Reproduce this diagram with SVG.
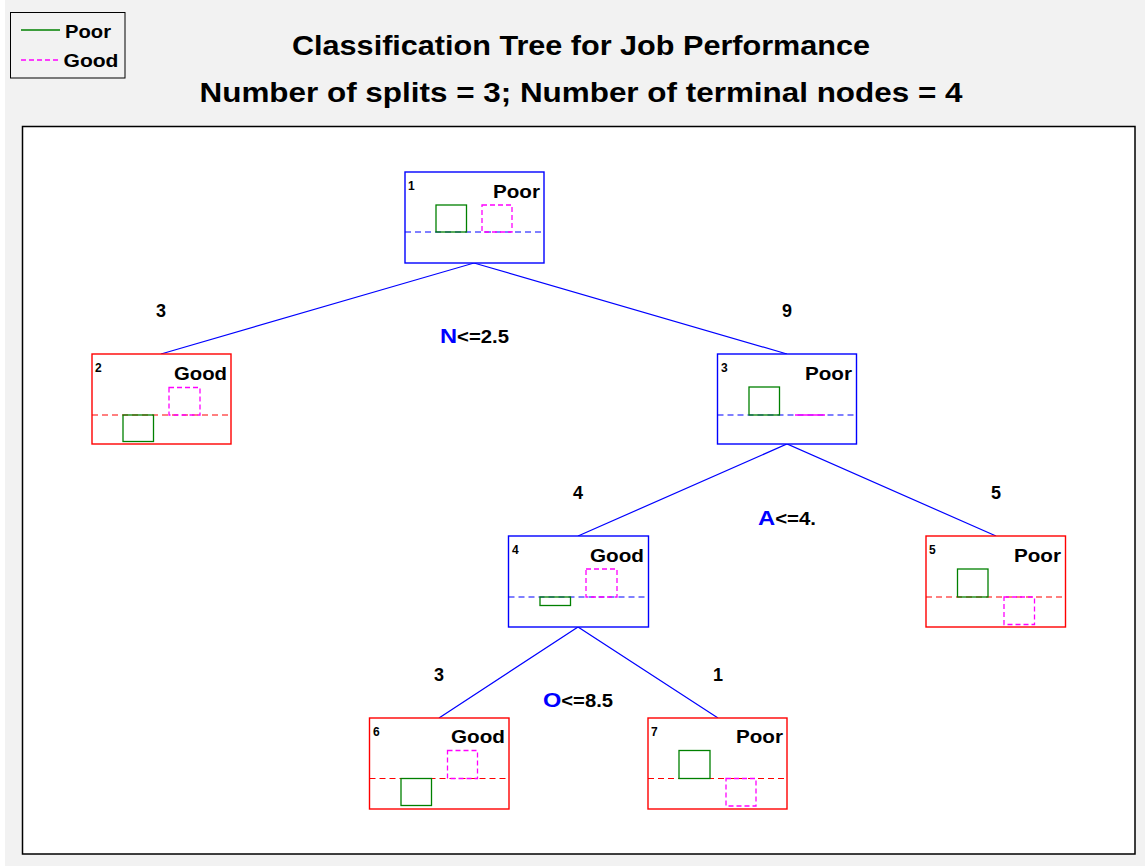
<svg xmlns="http://www.w3.org/2000/svg" width="1145" height="866" viewBox="0 0 1145 866">
  <style>
    text { font-family: "Liberation Sans", Arial, sans-serif; font-weight: bold; fill: #000; }
    .title { font-size: 28px; }
    .num { font-size: 12px; }
    .cls { font-size: 19px; text-anchor: end; }
    .cnt { font-size: 18px; text-anchor: middle; }
    .split { font-size: 18px; }
    .var { font-size: 21px; fill: #0000ff; }
    .leg { font-size: 18px; }
    .inner { fill: #fff; stroke-width: 1.4; }
    .inner.blue { stroke: #0000ff; }
    .inner.red { stroke: #ff0000; }
    .base { stroke-width: 1.2; stroke-dasharray: 6 4; fill: none; }
    .base.blue { stroke: #0000ff; }
    .base.red { stroke: #ff0000; }
    .poor { fill: none; stroke: #008000; stroke-width: 1.3; }
    .good { fill: none; stroke: #ff00ff; stroke-width: 1.3; stroke-dasharray: 5 3; }
    .edge { stroke: #0000ff; stroke-width: 1.2; fill: none; }
  </style>

  <!-- page background -->
  <rect x="0" y="0" width="1145" height="866" fill="#ffffff"/>
  <rect x="5" y="0" width="1140" height="866" fill="#f2f2f2"/>

  <!-- plot area -->
  <rect x="22.5" y="126.5" width="1112.5" height="727.5" fill="#ffffff" stroke="#000" stroke-width="1.5"/>

  <!-- legend -->
  <g id="legend">
    <rect x="10.5" y="12.5" width="114.5" height="65.5" fill="#f2f2f2" stroke="#000" stroke-width="1"/>
    <line x1="21" y1="30" x2="60" y2="30" stroke="#008000" stroke-width="1.3"/>
    <line x1="21" y1="60" x2="60" y2="60" stroke="#ff00ff" stroke-width="1.3" stroke-dasharray="5 3"/>
    <text class="leg" x="65" y="38" textLength="46" lengthAdjust="spacingAndGlyphs">Poor</text>
    <text class="leg" x="63.5" y="67" textLength="55" lengthAdjust="spacingAndGlyphs">Good</text>
  </g>

  <!-- titles -->
  <text class="title" x="581" y="55" text-anchor="middle" textLength="578" lengthAdjust="spacingAndGlyphs">Classification Tree for Job Performance</text>
  <text class="title" x="581" y="102" text-anchor="middle" textLength="763" lengthAdjust="spacingAndGlyphs">Number of splits = 3; Number of terminal nodes = 4</text>

  <!-- connectors -->
  <g id="connectors">
    <polyline class="edge" points="161,354 474,263 787,354"/>
    <polyline class="edge" points="578,536 787,444 996,536"/>
    <polyline class="edge" points="439,718 578,627 718,718"/>
    <text class="cnt" x="161" y="317">3</text>
    <text class="cnt" x="787" y="317">9</text>
    <text x="440" y="343" textLength="69" lengthAdjust="spacingAndGlyphs"><tspan class="var">N</tspan><tspan class="split">&lt;=2.5</tspan></text>
    <text class="cnt" x="578" y="499">4</text>
    <text class="cnt" x="996" y="499">5</text>
    <text x="758" y="525" textLength="58" lengthAdjust="spacingAndGlyphs"><tspan class="var">A</tspan><tspan class="split">&lt;=4.</tspan></text>
    <text class="cnt" x="439" y="681">3</text>
    <text class="cnt" x="718" y="681">1</text>
    <text x="543" y="707" textLength="70" lengthAdjust="spacingAndGlyphs"><tspan class="var">O</tspan><tspan class="split">&lt;=8.5</tspan></text>
  </g>

  <!-- node 1 -->
  <g id="node1">
    <rect class="inner blue" x="405" y="172" width="139" height="91"/>
    <line class="base blue" x1="405" y1="232" x2="544" y2="232"/>
    <rect class="poor" x="436" y="205" width="30.5" height="27"/>
    <rect class="good" x="482" y="205" width="30" height="27"/>
    <text class="num" x="408" y="190">1</text>
    <text class="cls" x="540" y="198" textLength="47" lengthAdjust="spacingAndGlyphs">Poor</text>
  </g>

  <!-- node 2 -->
  <g id="node2">
    <rect class="inner red" x="92" y="354" width="139" height="90"/>
    <line class="base red" x1="92" y1="415" x2="231" y2="415"/>
    <rect class="poor" x="123" y="415" width="30.5" height="26.5"/>
    <rect class="good" x="169" y="387.5" width="31" height="27.5"/>
    <text class="num" x="95" y="372">2</text>
    <text class="cls" x="227" y="380" textLength="53" lengthAdjust="spacingAndGlyphs">Good</text>
  </g>

  <!-- node 3 -->
  <g id="node3">
    <rect class="inner blue" x="717.5" y="354" width="139" height="90"/>
    <line class="base blue" x1="717.5" y1="415" x2="856.5" y2="415"/>
    <rect class="poor" x="749" y="387" width="30.5" height="28"/>
    <line x1="795" y1="415" x2="825" y2="415" stroke="#ff00ff" stroke-width="1.5"/>
    <text class="num" x="721" y="372">3</text>
    <text class="cls" x="852" y="380" textLength="47" lengthAdjust="spacingAndGlyphs">Poor</text>
  </g>

  <!-- node 4 -->
  <g id="node4">
    <rect class="inner blue" x="508.5" y="536" width="140" height="91"/>
    <line class="base blue" x1="508.5" y1="597" x2="648.5" y2="597"/>
    <rect class="poor" x="540" y="597" width="30.5" height="8.5"/>
    <rect class="good" x="586" y="569" width="31" height="28"/>
    <text class="num" x="512" y="554">4</text>
    <text class="cls" x="644" y="562" textLength="54" lengthAdjust="spacingAndGlyphs">Good</text>
  </g>

  <!-- node 5 -->
  <g id="node5">
    <rect class="inner red" x="926" y="536" width="139.5" height="91"/>
    <line class="base red" x1="926" y1="597" x2="1065.5" y2="597"/>
    <rect class="poor" x="957.5" y="569" width="30.5" height="28"/>
    <rect class="good" x="1004" y="597" width="30.5" height="27.5"/>
    <text class="num" x="929" y="554">5</text>
    <text class="cls" x="1061" y="562" textLength="47" lengthAdjust="spacingAndGlyphs">Poor</text>
  </g>

  <!-- node 6 -->
  <g id="node6">
    <rect class="inner red" x="369.5" y="718" width="139.5" height="91"/>
    <line class="base red" x1="369.5" y1="778.5" x2="509" y2="778.5"/>
    <rect class="poor" x="401" y="778.5" width="30.5" height="27"/>
    <rect class="good" x="447.5" y="750.5" width="30" height="28"/>
    <text class="num" x="373" y="736">6</text>
    <text class="cls" x="505" y="743" textLength="54" lengthAdjust="spacingAndGlyphs">Good</text>
  </g>

  <!-- node 7 -->
  <g id="node7">
    <rect class="inner red" x="648" y="718" width="139" height="91"/>
    <line class="base red" x1="648" y1="778.5" x2="787" y2="778.5"/>
    <rect class="poor" x="679" y="750.5" width="31" height="28"/>
    <rect class="good" x="726" y="778.5" width="30" height="27.5"/>
    <text class="num" x="651" y="736">7</text>
    <text class="cls" x="783" y="743" textLength="47" lengthAdjust="spacingAndGlyphs">Poor</text>
  </g>
</svg>
